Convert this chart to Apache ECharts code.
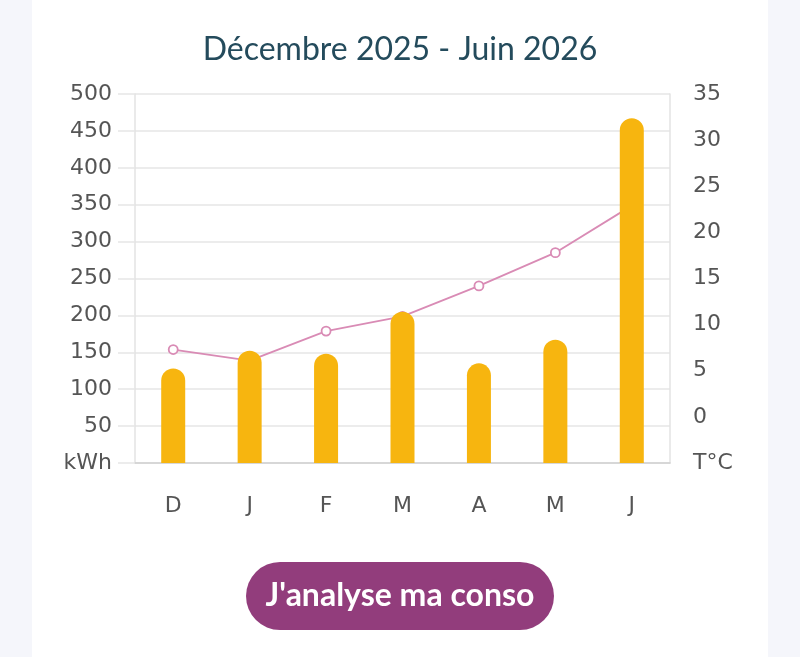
<!DOCTYPE html>
<html>
<head>
<meta charset="utf-8">
<script src="https://cdn.jsdelivr.net/npm/echarts@6/dist/echarts.min.js"></script>
<style>
    html, body { margin: 0; padding: 0; background: #f5f6fb; }
    #chart { width: 800px; height: 657px; }
</style>
</head>
<body>
<div id="chart"></div>
<script>
// données
const months = ["D", "J", "F", "M", "A", "M", "J"];
const consoKwh = [128, 152, 148, 205, 135, 167, 467]; // barres, kWh
const tempC = [7.3, 6.1, 9.3, 10.9, 14.2, 17.8, 22.9]; // courbe, °C
const kwhTicks = { min: 0, max: 500, step: 50 };
const tempTicks = { min: -5, max: 35, step: 5 };

const chartDom = document.getElementById("chart");
const chartObj = echarts.init(chartDom);

const labelStyle = {
    color: "#555555",
    fontSize: 22,
    fontFamily: "DejaVu Sans",
    padding: [7, 0, 0, 0], // descend un peu les libellés
};

let option = {
    backgroundColor: "#f5f6fb",
    animation: false,
    title: {
        text: "Décembre 2025 - Juin 2026",
        left: "center",
        top: 29,
        textStyle: {
            fontFamily: "Lato",
            fontWeight: "normal",
            fontSize: 32,
            color: "#244b5c",
        },
    },
    grid: {
        left: 135,
        right: 130,
        top: 94,
        bottom: 194,
    },
    xAxis: {
        type: "category",
        data: months,
        axisLine: { lineStyle: { color: "#cfcfcf", width: 1.5 } },
        axisTick: { show: false },
        axisLabel: Object.assign({ margin: 25 }, labelStyle),
    },
    yAxis: [
        {
            type: "value",
            min: kwhTicks.min,
            max: kwhTicks.max,
            interval: kwhTicks.step,
            axisLine: { show: true, lineStyle: { color: "#e3e3e3", width: 1.5 } },
            axisTick: { show: true, length: 17, lineStyle: { color: "#e6e6e6", width: 1.5 } },
            splitLine: { lineStyle: { color: "#e6e6e6", width: 1.5 } },
            axisLabel: Object.assign({
                margin: 23,
                formatter: function (v) {
                    return v === 0 ? "kWh" : String(v);
                },
            }, labelStyle),
        },
        {
            type: "value",
            min: tempTicks.min,
            max: tempTicks.max,
            interval: tempTicks.step,
            position: "right",
            axisLine: { show: true, lineStyle: { color: "#e3e3e3", width: 1.5 } },
            axisTick: { show: false },
            splitLine: { show: false },
            axisLabel: Object.assign({
                margin: 23,
                formatter: function (v) {
                    return v === -5 ? "T°C" : String(v);
                },
            }, labelStyle),
        },
    ],
    series: [
        {
            type: "bar",
            data: consoKwh,
            yAxisIndex: 0,
            barWidth: 24,
            z: 3,
            itemStyle: {
                color: "#f7b50f",
                borderRadius: [12, 12, 0, 0],
            },
        },
        {
            type: "line",
            data: tempC,
            yAxisIndex: 1,
            z: 2,
            symbol: "circle",
            symbolSize: 9,
            lineStyle: { color: "#d98bb5", width: 1.8 },
            itemStyle: { color: "#ffffff", borderColor: "#d98bb5", borderWidth: 1.8 },
        },
    ],
    graphic: [
        {
            // carte blanche
            type: "rect",
            z: -10,
            silent: true,
            shape: { x: 32, y: 0, width: 736, height: 657 },
            style: { fill: "#ffffff" },
        },
        {
            // bouton
            type: "group",
            left: 246,
            top: 562,
            children: [
                {
                    type: "rect",
                    shape: { x: 0, y: 0, width: 308, height: 68, r: 34 },
                    style: { fill: "#923d7c" },
                },
                {
                    type: "text",
                    x: 154,
                    y: 34,
                    style: {
                        text: "J'analyse ma conso",
                        fill: "#ffffff",
                        font: "bold 32px Lato",
                        align: "center",
                        verticalAlign: "middle",
                    },
                },
            ],
        },
    ],
};

chartObj.setOption(option);
</script>
</body>
</html>
